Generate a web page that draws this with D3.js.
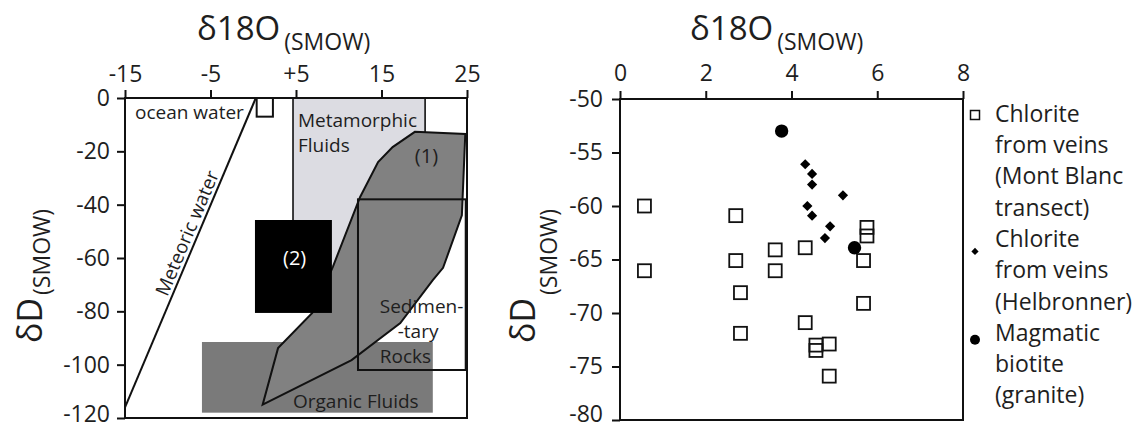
<!DOCTYPE html>
<html>
<head>
<meta charset="utf-8">
<script src="https://cdn.jsdelivr.net/npm/d3@7"></script>
<style>
  body { margin: 0; background: #fff; }
  text { font-family: 'Open Sans', 'Noto Sans', sans-serif; fill: #1e1e1e; }
</style>
</head>
<body>
<div id="chart"></div>
<script>
// ---- left panel: fields in d18O / dD space ----
var xTicksL = [-15, -5, 5, 15, 25];
var xTickLabelsL = ["-15", "-5", "+5", "15", "25"];
var yTicksL = [0, -20, -40, -60, -80, -100, -120];

var meteoricO = [-15, 0.3];
var meteoricD = [-116, 0];

var oceanO = [0.4, 2.3];
var oceanD = [0, -7];

var metamorphicO = [4.65, 20.1];
var metamorphicD = [0, -70];

var organicO = [-6, 21];
var organicD = [-91.5, -118];

var field1O = [18.9, 24.8, 24.4, 22.2, 21.0, 17.2, 11.5, 1.1, 2.9, 6.9, 9.3, 12.5, 14.6, 16.3];
var field1D = [-12.7, -13.5, -44, -63.7, -68.3, -84.4, -98.3, -115, -93.8, -80.6, -63.4, -37.1, -24, -18.4];

var field2O = [0.2, 9.2];
var field2D = [-45.75, -80.6];

var sedimentO = [12.25, 24.85];
var sedimentD = [-38, -102];

// ---- right panel: measured samples ----
var xTicksR = [0, 2, 4, 6, 8];
var yTicksR = [-50, -55, -60, -65, -70, -75, -80];

var mbO = [0.57, 0.57, 2.70, 2.70, 2.81, 2.81, 3.62, 3.62, 4.32, 4.32, 4.57, 4.57, 4.88, 4.88, 5.76, 5.76, 5.68, 5.68];
var mbD = [-60.0, -66.05, -60.9, -65.1, -68.1, -71.9, -64.1, -66.05, -63.9, -70.9, -73.0, -73.5, -72.9, -75.9, -62.0, -62.8, -65.1, -69.1];

var helO = [4.32, 4.48, 4.48, 5.20, 4.37, 4.48, 4.90, 4.78];
var helD = [-56.1, -57.0, -58.0, -59.0, -60.0, -60.9, -61.9, -63.0];

var bioO = [3.77, 5.47];
var bioD = [-53.0, -63.9];

var legendLines = [
  ["Chlorite", "from veins", "(Mont Blanc", "transect)"],
  ["Chlorite", "from veins", "(Helbronner)"],
  ["Magmatic", "biotite", "(granite)"]
];

var svg = d3.select('#chart').append('svg')
  .attr('width', 1139)
  .attr('height', 428);

var xL = d3.scaleLinear().domain([-15, 25]).range([125, 467]);
var yL = d3.scaleLinear().domain([-120, 0]).range([418, 98]);
var xR = d3.scaleLinear().domain([0, 8]).range([620, 963]);
var yR = d3.scaleLinear().domain([-80, -50]).range([420, 99]);

function rectFrom(g, xs, ys, sx, sy) {
  return g.append('rect')
    .attr('x', sx(d3.min(xs)))
    .attr('y', sy(d3.max(ys)))
    .attr('width', sx(d3.max(xs)) - sx(d3.min(xs)))
    .attr('height', sy(d3.min(ys)) - sy(d3.max(ys)));
}

/*** LEFT ***/
var gl = svg.append('g');

rectFrom(gl, metamorphicO, metamorphicD, xL, yL)
  .attr('fill', '#dcdce2').attr('stroke', '#111').attr('stroke-width', 1.6);

rectFrom(gl, organicO, organicD, xL, yL)
  .attr('fill', '#7a7a7a');

gl.append('path')
  .datum(d3.zip(field1O, field1D))
  .attr('d', d3.line().x(d => xL(d[0])).y(d => yL(d[1])).curve(d3.curveLinearClosed))
  .attr('fill', '#818181')
  .attr('stroke', '#111')
  .attr('stroke-width', 2);

rectFrom(gl, field2O, field2D, xL, yL)
  .attr('fill', '#000');

rectFrom(gl, sedimentO, sedimentD, xL, yL)
  .attr('fill', 'none').attr('stroke', '#111').attr('stroke-width', 2);

rectFrom(gl, oceanO, oceanD, xL, yL)
  .attr('fill', '#fff').attr('stroke', '#111').attr('stroke-width', 2);

gl.append('line')
  .attr('x1', xL(meteoricO[0])).attr('y1', yL(meteoricD[0]))
  .attr('x2', xL(meteoricO[1])).attr('y2', yL(meteoricD[1]))
  .attr('stroke', '#111').attr('stroke-width', 2);

// label along the meteoric water line
var mx1 = xL(meteoricO[0]), my1 = yL(meteoricD[0]);
var mx2 = xL(meteoricO[1]), my2 = yL(meteoricD[1]);
var ang = Math.atan2(my2 - my1, mx2 - mx1);
var t = 0.55;
var lx = mx1 + (mx2 - mx1) * t + Math.sin(ang) * 4;
var ly = my1 + (my2 - my1) * t - Math.cos(ang) * 4;
gl.append('text')
  .attr('transform', 'translate(' + lx + ',' + ly + ') rotate(' + (ang * 180 / Math.PI) + ')')
  .attr('text-anchor', 'middle')
  .style('font-size', '19px')
  .text('Meteoric water');

var notes = [
  { t: 'ocean water', o: -13.83, d: -7.9 },
  { t: 'Metamorphic', o: 5.23, d: -10.9 },
  { t: 'Fluids', o: 5.23, d: -20.25 },
  { t: '(1)', o: 18.9, d: -24.4 },
  { t: '(2)', o: 3.48, d: -62.6, white: true },
  { t: 'Sedimen-', o: 14.8, d: -80.6 },
  { t: '-tary', o: 16.9, d: -90 },
  { t: 'Rocks', o: 14.8, d: -99.4 },
  { t: 'Organic Fluids', o: 4.65, d: -116.3 }
];
gl.selectAll('text.note')
  .data(notes)
  .enter()
  .append('text')
  .attr('class', 'note')
  .attr('x', d => xL(d.o))
  .attr('y', d => yL(d.d))
  .style('font-size', d => (d.t === '(1)' || d.t === '(2)') ? '20px' : '19px')
  .style('fill', d => d.white ? '#fff' : '#1e1e1e')
  .text(d => d.t);

gl.append('rect')
  .attr('x', 125).attr('y', 98).attr('width', 342).attr('height', 320)
  .attr('fill', 'none').attr('stroke', '#111').attr('stroke-width', 2);

var axXL = gl.append('g').attr('transform', 'translate(0,98)')
  .call(d3.axisTop(xL).tickValues(xTicksL).tickFormat((d, i) => xTickLabelsL[i]).tickSize(8).tickPadding(8).tickSizeOuter(0));
var axYL = gl.append('g').attr('transform', 'translate(125,0)')
  .call(d3.axisLeft(yL).tickValues(yTicksL).tickFormat(d => String(d)).tickSize(8).tickPadding(7).tickSizeOuter(0));

/*** RIGHT ***/
var gr = svg.append('g');

gr.append('rect')
  .attr('x', 620).attr('y', 99).attr('width', 343).attr('height', 321)
  .attr('fill', 'none').attr('stroke', '#111').attr('stroke-width', 2);

var axXR = gr.append('g').attr('transform', 'translate(0,99)')
  .call(d3.axisTop(xR).tickValues(xTicksR).tickFormat(d => String(d)).tickSize(8).tickPadding(10).tickSizeOuter(0));
var axYR = gr.append('g').attr('transform', 'translate(620,0)')
  .call(d3.axisLeft(yR).tickValues(yTicksR).tickFormat(d => String(d)).tickSize(8).tickPadding(9).tickSizeOuter(0));

[axXL, axYL, axXR, axYR].forEach(function (ax) {
  ax.select('.domain').remove();
  ax.selectAll('.tick line').attr('stroke', '#111').attr('stroke-width', 2);
  ax.selectAll('.tick text')
    .style('font-family', "'Open Sans', 'Noto Sans', sans-serif")
    .style('font-size', '23px')
    .attr('fill', '#1e1e1e');
});
// keep the lowest y labels inside the picture
axYL.selectAll('.tick text').filter(d => d === -120).attr('dy', '0.14em');
axYR.selectAll('.tick text').filter(d => d === -80).attr('dy', '0.05em');

var sq = 13;
gr.selectAll('rect.mb')
  .data(d3.zip(mbO, mbD))
  .enter()
  .append('rect')
  .attr('class', 'mb')
  .attr('x', d => xR(d[0]) - sq / 2)
  .attr('y', d => yR(d[1]) - sq / 2)
  .attr('width', sq).attr('height', sq)
  .attr('fill', 'none').attr('stroke', '#111').attr('stroke-width', 1.8);

var diamond = d3.symbol().type(d3.symbolSquare).size(52);
gr.selectAll('path.hel')
  .data(d3.zip(helO, helD))
  .enter()
  .append('path')
  .attr('class', 'hel')
  .attr('d', diamond)
  .attr('transform', d => 'translate(' + xR(d[0]) + ',' + yR(d[1]) + ') rotate(45)')
  .attr('fill', '#000');

gr.selectAll('circle.bio')
  .data(d3.zip(bioO, bioD))
  .enter()
  .append('circle')
  .attr('class', 'bio')
  .attr('cx', d => xR(d[0]))
  .attr('cy', d => yR(d[1]))
  .attr('r', 6.7)
  .attr('fill', '#000');

// legend
var lineH = 31.3;
var lg = gr.append('g');
var row = 0;
legendLines.forEach(function (lines, i) {
  var top = 121.7 + row * lineH;
  var tx = lg.append('text').attr('x', 995).attr('y', top).style('font-size', '23px');
  lines.forEach(function (s, j) {
    tx.append('tspan').attr('x', 995).attr('y', top + j * lineH).text(s);
  });
  if (i === 0) {
    lg.append('rect').attr('x', 970.5).attr('y', 110.5).attr('width', 9).attr('height', 9)
      .attr('fill', 'none').attr('stroke', '#111').attr('stroke-width', 1.5);
  } else if (i === 1) {
    lg.append('path').attr('d', d3.symbol().type(d3.symbolSquare).size(26))
      .attr('transform', 'translate(975,' + (top + 4.5) + ') rotate(45)').attr('fill', '#000');
  } else {
    lg.append('circle').attr('cx', 975).attr('cy', top - 1).attr('r', 5).attr('fill', '#000');
  }
  row += lines.length;
});

/*** axis titles ***/
function topTitle(x) {
  var tt = svg.append('text').attr('x', x).attr('y', 40).style('font-size', '33px');
  tt.append('tspan').text('δ18O');
  tt.append('tspan').attr('dy', 10).attr('dx', 4).style('font-size', '23px').text('(SMOW)');
}
topTitle(197);
topTitle(690);

function sideTitle(x, y, sub) {
  var tt = svg.append('text').attr('transform', 'translate(' + x + ',' + y + ') rotate(-90)').style('font-size', '34px');
  tt.append('tspan').text('δD');
  tt.append('tspan').attr('dy', sub).attr('dx', 3).style('font-size', '23px').text('(SMOW)');
}
sideTitle(42, 343, 8);
sideTitle(535, 343, 22);
</script>
</body>
</html>
